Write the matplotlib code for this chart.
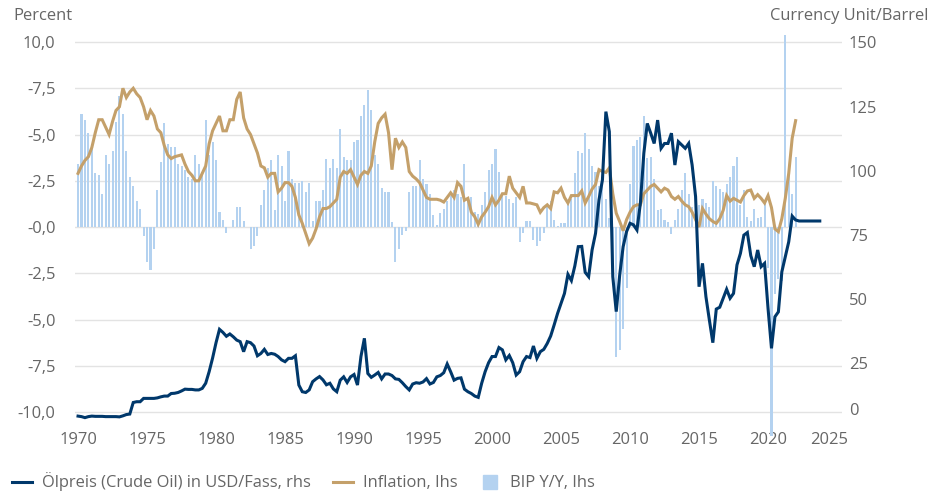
import numpy as np
import matplotlib
matplotlib.use("Agg")
import matplotlib.pyplot as plt
from matplotlib.lines import Line2D
from matplotlib.transforms import ScaledTranslation

plt.rcParams['font.family'] = ['Open Sans', 'DejaVu Sans']

# quarterly values, first quarter 1970 Q1
gdp = [3.4, 6.1, 5.8, 5.1, 4.5, 2.9, 2.8, 1.8, 3.9, 3.4,
       4.1, 5.7, 7.1, 6.1, 4.1, 2.7, 2.2, 1.4, 1.0, -0.5,
       -1.9, -2.3, -1.2, 2.0, 3.5, 5.6, 4.5, 4.3, 4.3, 3.4,
       3.3, 3.1, 2.7, 2.6, 3.9, 3.4, 3.0, 5.8, 3.9, 4.6,
       3.6, 0.8, 0.4, -0.3, 0.0, 0.4, 1.1, 1.1, 0.3, 0.0,
       -1.2, -1.0, -0.5, 1.2, 2.0, 3.2, 3.6, 0.9, 3.9, 3.3,
       1.4, 4.1, 2.6, 2.4, 2.4, 2.5, 1.9, 2.4, 0.3, 1.4,
       1.4, 2.0, 3.7, 3.2, 3.7, 3.2, 5.3, 3.8, 3.6, 3.6,
       4.6, 4.7, 6.0, 6.6, 7.4, 6.3, 3.9, 3.4, 2.1, 1.9,
       1.9, 0.25, -1.9, -1.2, -0.45, -0.2, 1.9, 2.2, 2.2, 3.6,
       2.6, 2.3, 1.8, 0.65, 0.1, 0.75, 1.0, 1.4, 1.7, 2.0,
       1.8, 1.6, 3.4, 1.6, 1.6, 0.8, 0.7, 1.2, 1.9, 3.1,
       3.4, 4.2, 3.0, 1.7, 1.7, 1.5, 1.3, 1.6, -0.8, -0.35,
       0.3, 0.3, -0.7, -1.0, -0.75, -0.3, 1.2, 1.4, 0.4, 0.04,
       0.2, 0.2, 1.3, 1.5, 2.9, 4.1, 4.0, 5.1, 4.2, 3.3,
       3.0, 2.2, 2.5, 1.5, 0.5, -1.9, -7.0, -6.65, -5.5, -3.3,
       2.3, 4.4, 4.7, 4.85, 6.0, 3.75, 3.8, 2.6, 0.9, 1.0,
       0.4, 0.25, -0.4, 0.4, 0.95, 2.0, 2.9, 1.8, 1.1, 1.5,
       1.2, 1.5, 1.3, 1.1, 2.5, 2.2, 2.05, 1.9, 2.3, 2.7,
       3.3, 3.8, 1.2, 2.0, 0.55, 0.3, 1.0, 0.5, 0.55, 1.3,
       -2.2, -11.3, -3.6, -2.8, -2.9, 10.4, 2.9, 1.8, 3.8]

inflation = [2.9, 3.3, 3.6, 3.8, 4.3, 5.1, 5.8, 5.8, 5.4, 5.0,
             5.7, 6.3, 6.5, 7.5, 7.0, 7.3, 7.5, 7.2, 7.0, 6.5,
             5.8, 6.3, 6.0, 5.3, 5.1, 4.4, 3.9, 3.7, 3.8, 3.85,
             3.9, 3.4, 3.0, 2.8, 2.5, 2.5, 2.9, 3.3, 4.5, 5.2,
             5.6, 6.0, 5.2, 5.2, 5.8, 5.8, 6.9, 7.3, 5.9, 5.3,
             5.0, 4.5, 4.0, 3.3, 3.2, 2.7, 2.9, 2.9, 1.9, 2.1,
             2.4, 2.4, 2.2, 1.6, 0.65, 0.2, -0.35, -0.9, -0.6, -0.1,
             0.55, 1.0, 1.0, 1.1, 1.3, 1.5, 2.7, 3.0, 2.9, 3.1,
             2.7, 2.3, 2.8, 3.0, 2.9, 3.3, 4.6, 5.6, 5.9, 6.1,
             5.1, 3.1, 4.8, 4.3, 4.6, 4.3, 3.0, 2.75, 2.6, 2.4,
             2.0, 1.6, 1.5, 1.5, 1.5, 1.45, 1.35, 1.6, 1.85, 1.6,
             2.4, 2.2, 1.45, 1.55, 0.8, 0.55, 0.15, 0.55, 0.8, 1.1,
             1.6, 1.2, 1.45, 1.8, 1.8, 2.75, 2.1, 1.85, 1.6, 2.2,
             1.3, 1.3, 1.25, 1.2, 0.8, 1.05, 1.2, 1.0, 1.9, 1.85,
             2.1, 1.6, 1.3, 1.7, 1.7, 1.7, 1.95, 1.3, 1.65, 2.05,
             2.3, 3.1, 3.0, 2.95, 3.2, 1.8, 0.75, 0.3, -0.2, 0.4,
             0.8, 1.1, 1.2, 1.2, 1.8, 2.0, 2.2, 2.3, 2.1, 1.9,
             2.1, 2.0, 1.65, 1.5, 1.65, 1.4, 1.2, 1.1, 0.8, 0.4,
             0.0, 1.0, 0.7, 0.45, 0.3, 0.2, 0.45, 0.9, 1.7, 1.4,
             1.55, 1.45, 1.35, 1.7, 1.95, 2.0, 1.55, 1.75, 1.55, 1.3,
             1.7, 1.05, -0.1, -0.25, 0.45, 1.55, 2.9, 4.8, 5.75]

oil = [4.4, 4.2, 3.8, 4.2, 4.4, 4.3, 4.3, 4.3, 4.2, 4.2,
       4.2, 4.2, 4.1, 4.5, 5.0, 5.2, 9.7, 10.0, 10.0, 11.3,
       11.3, 11.3, 11.3, 11.5, 11.9, 12.2, 12.2, 13.2, 13.3, 13.6,
       14.2, 14.9, 14.8, 14.8, 14.6, 14.6, 15.2, 17.2, 21.7, 27.0,
       33.0, 38.2, 37.0, 35.5, 36.4, 35.3, 34.0, 33.4, 29.5, 33.4,
       33.0, 31.7, 27.9, 28.8, 30.4, 28.4, 28.8, 28.5, 27.6, 26.3,
       25.6, 26.9, 26.9, 27.9, 16.5, 13.9, 13.6, 14.6, 17.8, 18.9,
       19.8, 18.5, 16.6, 17.2, 15.0, 13.9, 18.4, 19.7, 17.5, 19.7,
       20.6, 16.5, 27.6, 34.7, 21.0, 19.5, 20.4, 21.4, 18.9, 20.8,
       20.8, 20.2, 18.9, 18.7, 17.4, 15.9, 14.6, 16.9, 17.4, 17.2,
       17.7, 19.0, 16.9, 17.5, 19.7, 20.2, 21.3, 24.7, 21.7, 18.4,
       19.1, 19.3, 14.9, 13.9, 13.2, 12.2, 11.7, 17.2, 21.7, 25.2,
       27.6, 27.6, 31.1, 30.2, 26.3, 28.0, 25.2, 20.4, 21.7, 25.6,
       27.6, 27.2, 31.7, 26.9, 29.5, 30.4, 32.7, 35.6, 39.9, 44.4,
       48.3, 52.2, 59.6, 57.2, 62.9, 70.4, 70.5, 60.4, 58.7, 69.1,
       75.6, 88.6, 96.4, 123.0, 115.2, 58.7, 45.1, 59.3, 70.4, 76.3,
       79.5, 78.9, 76.9, 87.3, 106.8, 118.4, 114.6, 110.6, 119.7, 108.7,
       110.6, 110.6, 114.6, 102.2, 111.3, 110.0, 108.7, 110.6, 102.2, 89.9,
       54.8, 63.9, 50.9, 41.8, 33.0, 46.1, 46.8, 50.3, 53.8, 50.3,
       52.2, 63.3, 67.8, 74.9, 75.9, 66.9, 62.6, 69.1, 62.6, 63.9,
       46.4, 30.8, 43.1, 45.0, 60.6, 66.4, 72.3, 82.3, 80.8, 80.4,
       80.4, 80.4, 80.4, 80.4, 80.4, 80.4]

left_ticks = [10, 7.5, 5, 2.5, 0, -2.5, -5, -7.5, -10]
left_labels = ["10,0", "-7,5", "-5,0", "-2,5", "-0,0", "-2,5", "-5,0", "-7,5", "-10,0"]
right_ticks = [0, 25, 50, 75, 100, 125, 150]
year_ticks = [1970, 1975, 1980, 1985, 1990, 1995, 2000, 2005, 2010, 2015, 2020, 2025]

navy = '#00386b'
tan = '#c4a06a'
lightblue = '#b4d2f0'
gridcol = '#e3e3e3'
textcol = '#666666'
fs = 11.9

q_gdp = 1970 + np.arange(len(gdp)) / 4
q_infl = 1970 + np.arange(len(inflation)) / 4
q_oil = 1970 + np.arange(len(oil)) / 4

fig = plt.figure(figsize=(9.44, 4.92), dpi=100)
ax = fig.add_axes([75 / 944, 1 - 437 / 492, 767 / 944, 407 / 492])
ax2 = ax.twinx()

ax.bar(q_gdp, gdp, width=0.15, color=lightblue, zorder=2)
ax.plot(q_infl, inflation, color=tan, lw=2.2, zorder=3, solid_joinstyle='miter')
ax2.plot(q_oil, oil, color=navy, lw=2.2, solid_joinstyle='miter')

ax.set_xlim(1969.78, 2025.36)
ax.set_ylim(-11.35, 10.65)
ax2.set_ylim(-3.74, 154.8)

ax.set_yticks(left_ticks, left_labels)
ax.set_xticks(year_ticks)
ax2.set_yticks(right_ticks, [str(t) for t in right_ticks])

ax.grid(axis='y', color=gridcol, lw=1)
ax.set_axisbelow(True)
for a in (ax, ax2):
    for s in a.spines.values():
        s.set_visible(False)
ax.tick_params(axis='y', length=0, labelsize=fs, labelcolor=textcol, pad=14)
ax.tick_params(axis='x', length=0, labelsize=fs, labelcolor=textcol, pad=-3.5)
ax2.tick_params(axis='y', length=0, labelsize=fs, labelcolor=textcol, pad=5)

# labels that sit inside the chart edge in the original
for lbl in ax2.get_yticklabels():
    if lbl.get_text() == '0':
        lbl.set_transform(lbl.get_transform() + ScaledTranslation(0, 0.18, fig.dpi_scale_trans))
for lbl in ax.get_xticklabels():
    if lbl.get_text() == '2025':
        lbl.set_transform(lbl.get_transform() + ScaledTranslation(-0.08, 0, fig.dpi_scale_trans))

fig.text(13 / 944, 1 - 16 / 492, "Percent", ha='left', va='center', fontsize=fs, color=textcol)
fig.text(928 / 944, 1 - 16 / 492, "Currency Unit/Barrel", ha='right', va='center', fontsize=fs, color=textcol)

handles = [Line2D([], [], color=navy, lw=2.2),
           Line2D([], [], color=tan, lw=2.2),
           Line2D([], [], color=lightblue, marker='s', ls='none', markersize=10)]
names = ["Ölpreis (Crude Oil) in USD/Fass, rhs", "Inflation, Ihs", "BIP Y/Y, Ihs"]
leg = fig.legend(handles, names, loc='center left', bbox_to_anchor=(0.0, 1 - 482 / 492),
                 ncol=3, frameon=False, fontsize=fs, handlelength=1.2,
                 handletextpad=0.6, columnspacing=1.35, borderaxespad=0.35)
for t in leg.get_texts():
    t.set_color(textcol)

fig.savefig("out.png", dpi=100)
